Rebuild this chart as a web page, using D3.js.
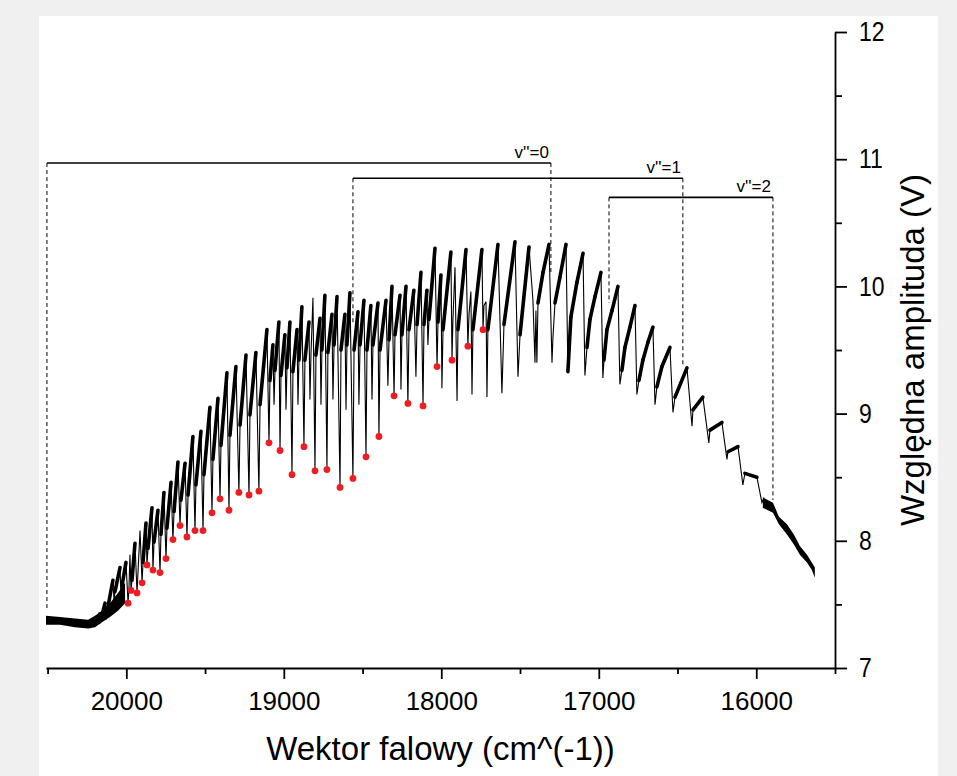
<!DOCTYPE html>
<html>
<head>
<meta charset="utf-8">
<script src="https://cdn.jsdelivr.net/npm/d3@7"></script>
<style>
  html, body { margin: 0; padding: 0; background: #f0f0f0; }
  text { font-family: "Liberation Sans", Arial, sans-serif; fill: #000; }
</style>
</head>
<body>
<div id="chart"></div>
<script>
const width = 957;
const height = 776;
const margin = { top: 32, right: 122, bottom: 108, left: 46 };

// axis ticks
const xTicks = [20000, 19000, 18000, 17000, 16000];
const xMinorTicks = [20500, 19500, 18500, 17500, 16500, 15500];
const yTicks = [7, 8, 9, 10, 11, 12];
const yMinorTicks = [7.5, 8.5, 9.5, 10.5, 11.5];

// spectrum (wave number, volts)
const specWn = [20173,20167,20161, 20135,20129,20123, 20085,20078,20072, 20040,20034,20027,
  20002,19989,19983, 19977,19970,19964, 19945,19932,19926, 19913,19900,19894, 19875,19869,19862,
  19837,19831,19824, 19799,19786,19780, 19761,19748,19742, 19716,19704,19697, 19672,19659,19653,
  19627,19615,19608, 19577,19564,19558, 19526,19513,19507, 19469,19456,19450, 19418,19405,19399,
  19361,19348,19342, 19304,19285,19278, 19240,19221,19215, 19177,19158,19151,
  19107,19094,19088, 19069,19062,19056, 19031,19024,19018, 18993,18986,18980, 18961,18948,18942,
  18916,18910,18904, 18885,18872,18866, 18840,18834,18827, 18815,18802,18796, 18770,18764,18758,
  18739,18726,18720, 18694,18688,18681, 18662,18643,18637, 18612,18605,18599, 18580,18561,18554,
  18529,18523,18516, 18491,18478,18472, 18447,18440,18434, 18402,18396,18389, 18351,18339,18332,
  18313,18300,18294, 18262,18256,18250, 18224,18212,18205, 18174,18161,18154, 18129,18116,18110,
  18091,18085,18078, 18040,18027,18021, 18002,17996,17989, 17939,17932,17926, 17913,17900,17894,
  17843,17831,17824, 17812,17805,17799, 17742,17735,17729, 17716,17710,17704,
  17640,17615,17602, 17532,17513,17500, 17443,17418,17405,17399,17393,17386,
  17354,17316,17297,17291,17278,17247, 17208,17196,17177,17139, 17100,17088,17075,17056,17024,
  16986,16974,16967,16948,16916, 16878,16866,16853,16834,16802, 16770,16758,16745,16720,16688,
  16656,16643,16631,16599, 16548,16529,16516, 16440,16408,16402, 16339,16301,16294,
  16218,16186,16180, 16116,16085,16072, 15996,15964,15951];
const specV = [7.44,7.35,7.39, 7.51,7.38,7.44, 7.69,7.53,7.60, 7.79,7.55,7.65,
  7.83,7.51,7.63, 7.89,7.61,7.69, 7.98,7.59,7.75, 8.08,7.67,7.83, 8.14,7.81,7.94,
  8.26,7.77,7.99, 8.24,7.75,8.05, 8.38,7.86,8.10, 8.46,8.01,8.23, 8.62,8.12,8.32,
  8.61,8.03,8.36, 8.82,8.08,8.44, 8.86,8.08,8.52, 9.05,8.22,8.64, 9.12,8.33,8.75,
  9.32,8.24,8.83, 9.37,8.38,8.91, 9.46,8.36,8.99, 9.48,8.39,9.07,
  9.66,8.77,9.26, 9.54,9.07,9.34, 9.72,8.71,9.30, 9.62,9.03,9.36, 9.72,8.52,9.33,
  9.66,9.07,9.42, 9.84,8.74,9.42, 9.72,9.11,9.48, 9.91,8.55,9.46, 9.75,9.07,9.50,
  9.93,8.56,9.48, 9.78,9.11,9.54, 9.92,8.42,9.50, 9.78,9.03,9.54, 9.95,8.49,9.50,
  9.80,9.07,9.54, 9.89,8.66,9.50, 9.85,9.11,9.54, 9.87,8.82,9.50, 9.89,9.22,9.58,
  10.00,9.14,9.62, 9.93,9.19,9.62, 10.00,9.08,9.66, 9.97,9.29,9.70, 10.11,9.06,9.70,
  9.97,9.54,9.74, 10.30,9.37,9.72, 10.09,9.20,9.66, 10.27,9.42,9.74, 10.15,9.10,9.66,
  10.29,9.53,9.78, 9.96,9.15,9.66, 10.29,9.66,9.85, 9.88,9.13,9.66,
  10.33,9.16,9.70, 10.35,9.29,9.62, 10.31,9.89,9.40,9.81,9.40,9.87,
  10.11,10.33,9.40,9.60,9.87,10.07, 10.33,9.33,9.76,10.03, 10.26,9.30,9.52,9.74,9.92,
  10.11,9.28,9.42,9.66,9.81, 10.00,9.23,9.34,9.52,9.68, 9.85,9.15,9.26,9.42,9.56,
  9.68,9.07,9.21,9.37, 9.52,9.01,9.13, 9.36,8.90,9.03, 9.13,8.77,8.87,
  8.93,8.64,8.70, 8.74,8.44,8.53, 8.50,8.30,8.34];

// noisy flat stretches drawn as a band (low / high edge)
const baseWn = [20510, 20421, 20326, 20243, 20199, 20154, 20104, 20053, 20008];
const baseLo = [7.34, 7.34, 7.32, 7.31, 7.32, 7.36, 7.40, 7.45, 7.51];
const baseHi = [7.41, 7.40, 7.39, 7.38, 7.41, 7.45, 7.51, 7.59, 7.67];
const tailWn = [15958, 15894, 15856, 15805, 15761, 15723, 15678, 15647, 15628];
const tailLo = [8.26, 8.22, 8.13, 8.05, 7.97, 7.89, 7.83, 7.77, 7.71];
const tailHi = [8.34, 8.30, 8.19, 8.13, 8.05, 7.96, 7.89, 7.83, 7.79];

// marked band heads (red points)
const dotWn = [19989,19970,19932,19900,19869,19831,19786,19748,19704,19659,19615,19564,19513,
  19456,19405,19348,19285,19221,19158,19094,19024,18948,18872,18802,18726,18643,18561,18478,
  18396,18300,18212,18116,18027,17932,17831,17735];
const dotV = [7.51,7.61,7.59,7.67,7.81,7.77,7.75,7.86,8.01,8.12,8.03,8.08,8.08,
  8.22,8.33,8.24,8.38,8.36,8.39,8.77,8.71,8.52,8.74,8.55,8.56,8.42,8.49,8.66,
  8.82,9.14,9.08,9.06,9.37,9.42,9.53,9.66];

// progressions v''
const bracketLabel = ["v''=0", "v''=1", "v''=2"];
const bracketFrom = [20504, 18561, 16935];
const bracketTo = [17304, 16466, 15894];
const bracketLevel = [10.97, 10.85, 10.70];
const bracketFootFrom = [7.47, 9.70, 9.87];
const bracketFootTo = [10.11, 9.38, 8.32];

const svg = d3.select("#chart")
  .append("svg")
  .attr("width", width)
  .attr("height", height);

svg.append("rect")
  .attr("width", width).attr("height", height)
  .attr("fill", "#f0f0f0");
svg.append("rect")
  .attr("x", 39).attr("y", 16)
  .attr("width", 899).attr("height", height - 16)
  .attr("fill", "#fff");

const x = d3.scaleLinear().domain([20510, 15500]).range([margin.left, width - margin.right]);
const y = d3.scaleLinear().domain([7, 12]).range([height - margin.bottom, margin.top]);

// bands
const band = d3.area().x(d => x(d[0])).y0(d => y(d[1])).y1(d => y(d[2]));
svg.append("path")
  .datum(baseWn.map((w, i) => [w, baseLo[i], baseHi[i]]))
  .attr("d", band).attr("fill", "#000");
svg.append("path")
  .datum(tailWn.map((w, i) => [w, tailLo[i], tailHi[i]]))
  .attr("d", band).attr("fill", "#000");

// spectrum
const spec = specWn.map((w, i) => [w, specV[i]]);
const line = d3.line().x(d => x(d[0])).y(d => y(d[1]));
svg.append("path")
  .datum(spec)
  .attr("d", line)
  .attr("fill", "none")
  .attr("stroke", "#000")
  .attr("stroke-width", 1.1);

// the slow parts between the drops are noisy, so they look thicker
const slow = d3.pairs(spec).filter(([a, b]) => {
  const dx = x(b[0]) - x(a[0]);
  const drop = y(b[1]) - y(a[1]);
  return dx >= 2.5 && drop < 4 * dx;
});
svg.append("g")
  .selectAll("path")
  .data(slow)
  .join("path")
  .attr("d", line)
  .attr("fill", "none")
  .attr("stroke", "#000")
  .attr("stroke-width", 3.6)
  .attr("stroke-linecap", "round");

// red points
svg.append("g")
  .selectAll("circle")
  .data(dotWn.map((w, i) => [w, dotV[i]]))
  .join("circle")
  .attr("cx", d => x(d[0]))
  .attr("cy", d => y(d[1]))
  .attr("r", 3.4)
  .attr("fill", "#ee1d23");

// brackets
const brackets = svg.append("g");
bracketLabel.forEach((label, i) => {
  brackets.append("line")
    .attr("x1", x(bracketFrom[i])).attr("x2", x(bracketTo[i]))
    .attr("y1", y(bracketLevel[i])).attr("y2", y(bracketLevel[i]))
    .attr("stroke", "#000").attr("stroke-width", 1.6);
  brackets.append("line")
    .attr("x1", x(bracketFrom[i])).attr("x2", x(bracketFrom[i]))
    .attr("y1", y(bracketLevel[i])).attr("y2", y(bracketFootFrom[i]))
    .attr("stroke", "#000").attr("stroke-width", 1).attr("stroke-dasharray", "4,3");
  brackets.append("line")
    .attr("x1", x(bracketTo[i])).attr("x2", x(bracketTo[i]))
    .attr("y1", y(bracketLevel[i])).attr("y2", y(bracketFootTo[i]))
    .attr("stroke", "#000").attr("stroke-width", 1).attr("stroke-dasharray", "4,3");
  brackets.append("text")
    .attr("x", x(bracketTo[i]) - 2)
    .attr("y", y(bracketLevel[i]) - 5)
    .attr("text-anchor", "end")
    .style("font-size", "17px")
    .text(label);
});

// x axis
const xAxisG = svg.append("g")
  .attr("transform", `translate(0, ${height - margin.bottom})`);
xAxisG.call(d3.axisBottom(x).tickValues(xTicks).tickSize(11).tickSizeOuter(0)
  .tickPadding(13).tickFormat(d3.format("d")));
xAxisG.append("g")
  .call(d3.axisBottom(x).tickValues(xMinorTicks).tickSize(6).tickFormat(""))
  .select(".domain").remove();
xAxisG.selectAll("text").style("font-size", "26px").style("font-family", '"Liberation Sans", Arial, sans-serif');

// y axis (right)
const yAxisG = svg.append("g")
  .attr("transform", `translate(${width - margin.right}, 0)`);
yAxisG.call(d3.axisRight(y).tickValues(yTicks).tickSize(12).tickSizeOuter(0).tickFormat(d3.format("d")));
yAxisG.append("g")
  .call(d3.axisRight(y).tickValues(yMinorTicks).tickSize(7).tickFormat(""))
  .select(".domain").remove();
yAxisG.selectAll(".tick text")
  .attr("x", 0)
  .attr("transform", "translate(24,0) scale(0.85,1)")
  .style("font-size", "27px")
  .style("font-family", '"Liberation Sans", Arial, sans-serif');

svg.selectAll(".domain, .tick line").attr("stroke", "#000").attr("stroke-width", 1.8);

// titles
svg.append("text")
  .attr("x", (margin.left + width - margin.right) / 2)
  .attr("y", 760)
  .attr("text-anchor", "middle")
  .style("font-size", "33px")
  .text("Wektor falowy (cm^(-1))");

svg.append("text")
  .attr("transform", `translate(924, ${(margin.top + height - margin.bottom) / 2}) rotate(-90)`)
  .attr("text-anchor", "middle")
  .style("font-size", "33px")
  .text("Względna amplituda (V)");
</script>
</body>
</html>
